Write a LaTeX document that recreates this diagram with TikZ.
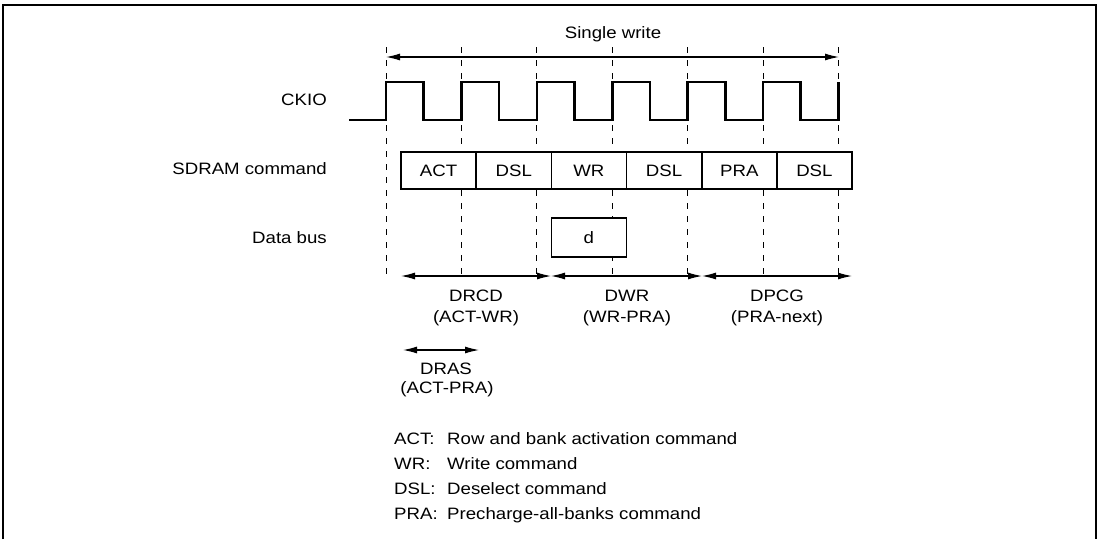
\documentclass[tikz,border=0pt]{standalone}
\usepackage{fontspec}
\setmainfont[FakeStretch=1.13]{Liberation Sans}
\usepackage{tikz}
\usetikzlibrary{arrows.meta,positioning}

\begin{document}
\begin{tikzpicture}[
  x=1pt, y=-1pt,
  font=\fontsize{16.5}{20}\selectfont,
  lbl/.style={inner sep=0pt, text height=15pt, text depth=3.2pt},
  cmd/.style={draw, line width=1.6pt, fill=white, minimum width=75.2pt, minimum height=37pt, inner sep=0pt, outer sep=0pt, text height=15pt, text depth=3.2pt},
  clock/.style={line width=2.6pt},
  grid/.style={line width=1pt, dash pattern=on 6pt off 7pt},
  dim/.style={{Latex[length=14pt,width=7pt]}-{Latex[length=14pt,width=7pt]}, line width=1.1pt}
]
\useasboundingbox (0,0) rectangle (1100,539);

% frame
\draw[line width=2pt] (3,539) -- (3,5) -- (1096,5) -- (1096,539);

% clock edges
\foreach \k in {0,...,6}
  \draw[grid] (386+75.4*\k,47) -- (386+75.4*\k,276);

% signal names
\node[lbl, anchor=east] (ckio) at (327,100) {CKIO};
\node[lbl, anchor=east] (sdram) at (327,169) {SDRAM command};
\node[lbl, anchor=east] (dbus) at (327,238) {Data bus};

% single write
\coordinate (sw0) at (386,57);
\coordinate (sw1) at (839,57);
\draw[dim] (sw0) -- (sw1);
\node[lbl] (single) at (613,33) {Single write};

% CKIO waveform
\draw[clock] (349,120) -- (386,120)
  \foreach \k in {0,...,5} {-- ++(0,-38) -- ++(37.7,0) -- ++(0,38) -- ++(37.7,0)}
  -- ++(0,-38);

% SDRAM commands
\node[cmd] (act)  at (438.6,170.5) {ACT};
\node[cmd] (dsla) at (513.8,170.5) {DSL};
\node[cmd] (wr)   at (588.9,170.5) {WR};
\node[cmd] (dslb) at (664.1,170.5) {DSL};
\node[cmd] (pra)  at (739.3,170.5) {PRA};
\node[cmd] (dslc) at (814.4,170.5) {DSL};

% data
\node[cmd, minimum height=39pt] (data) at (588.9,237.5) {d};

% timing parameters
\coordinate (t0) at (401,276);
\coordinate (t1) at (551,276);
\coordinate (t2) at (702,276);
\coordinate (t3) at (852,276);
\draw[dim] (t0) -- (t1);
\draw[dim] (t1) -- (t2);
\draw[dim] (t2) -- (t3);
\node[lbl] (drcd) at (476,296) {DRCD};
\node[lbl] (drcdx) at (476,317) {(ACT-WR)};
\node[lbl] (dwr) at (627,296) {DWR};
\node[lbl] (dwrx) at (627,317) {(WR-PRA)};
\node[lbl] (dpcg) at (777,296) {DPCG};
\node[lbl] (dpcgx) at (777,317) {(PRA-next)};

\coordinate (r0) at (403,350);
\coordinate (r1) at (479,350);
\draw[dim] (r0) -- (r1);
\node[lbl] (dras) at (446,369) {DRAS};
\node[lbl] (drasx) at (447,388) {(ACT-PRA)};

% legend
\node[lbl, anchor=west] (kact) at (394,439) {ACT:};
\node[lbl, anchor=west] (kwr)  at (394,464) {WR:};
\node[lbl, anchor=west] (kdsl) at (394,489) {DSL:};
\node[lbl, anchor=west] (kpra) at (394,514) {PRA:};
\node[lbl, anchor=west] (vact) at (447,439) {Row and bank activation command};
\node[lbl, anchor=west] (vwr)  at (447,464) {Write command};
\node[lbl, anchor=west] (vdsl) at (447,489) {Deselect command};
\node[lbl, anchor=west] (vpra) at (447,514) {Precharge-all-banks command};

\end{tikzpicture}
\end{document}
